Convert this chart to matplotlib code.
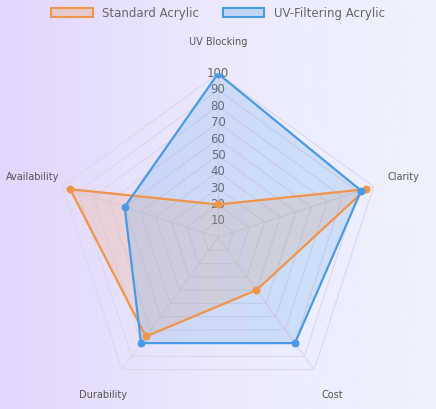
import numpy as np
import matplotlib.pyplot as plt
from matplotlib.patches import Patch
from matplotlib.colors import LinearSegmentedColormap

# data
axes_labels = ["UV Blocking", "Clarity", "Cost", "Durability", "Availability"]
standard = [20, 95, 40, 75, 95]
uv_filter = [100, 92, 80, 80, 60]
levels = list(range(10, 101, 10))

orange = "#f0954a"
blue = "#4a9ae6"

fig = plt.figure(figsize=(4.36, 4.09), dpi=100)

# background gradient (lavender -> pale blue)
bg = fig.add_axes([0, 0, 1, 1])
grad = np.linspace(0, 1, 256)[None, :]
cmap = LinearSegmentedColormap.from_list("bg", ["#e2d6fb", "#ebeafd", "#eef2fd"])
bg.imshow(grad, aspect="auto", cmap=cmap, extent=[0, 1, 0, 1])
bg.axis("off")

ax = fig.add_axes([0.09, 0.02, 0.82, 0.8], polar=True)
ax.set_facecolor("none")
ax.set_theta_offset(np.pi / 2)
ax.set_theta_direction(-1)
n = len(axes_labels)
angles = np.linspace(0, 2 * np.pi, n, endpoint=False)
closed = np.concatenate([angles, angles[:1]])

# polygon grid
for lv in levels:
    ax.plot(closed, [lv] * (n + 1), color="#dcd8ea", lw=0.8, zorder=1)
for a in angles:
    ax.plot([a, a], [0, 100], color="#dcd8ea", lw=0.8, zorder=1)
ax.grid(False)
ax.spines["polar"].set_visible(False)
ax.set_ylim(0, 100)
ax.set_yticks([])
ax.set_xticks(angles)
ax.set_xticklabels(axes_labels, fontsize=7, color="#555555")
ax.tick_params(axis="x", pad=12)
for lv in levels:
    ax.text(0, lv, str(lv), ha="center", va="center", fontsize=8.5, color="#666666", zorder=2)

for vals, col in [(standard, orange), (uv_filter, blue)]:
    v = vals + vals[:1]
    ax.fill(closed, v, color=col, alpha=0.18, zorder=3)
    ax.plot(closed, v, color=col, lw=1.6, zorder=4)
    ax.scatter(angles, vals, color=col, s=22, zorder=5)

handles = [Patch(facecolor=orange + "40", edgecolor=orange, lw=1.5, label="Standard Acrylic"),
           Patch(facecolor=blue + "40", edgecolor=blue, lw=1.5, label="UV-Filtering Acrylic")]
fig.legend(handles=handles, loc="upper center", ncol=2, frameon=False, fontsize=8.5,
           bbox_to_anchor=(0.5, 1.01), handlelength=3.5, labelcolor="#666666")

fig.savefig("out.png", dpi=100)
